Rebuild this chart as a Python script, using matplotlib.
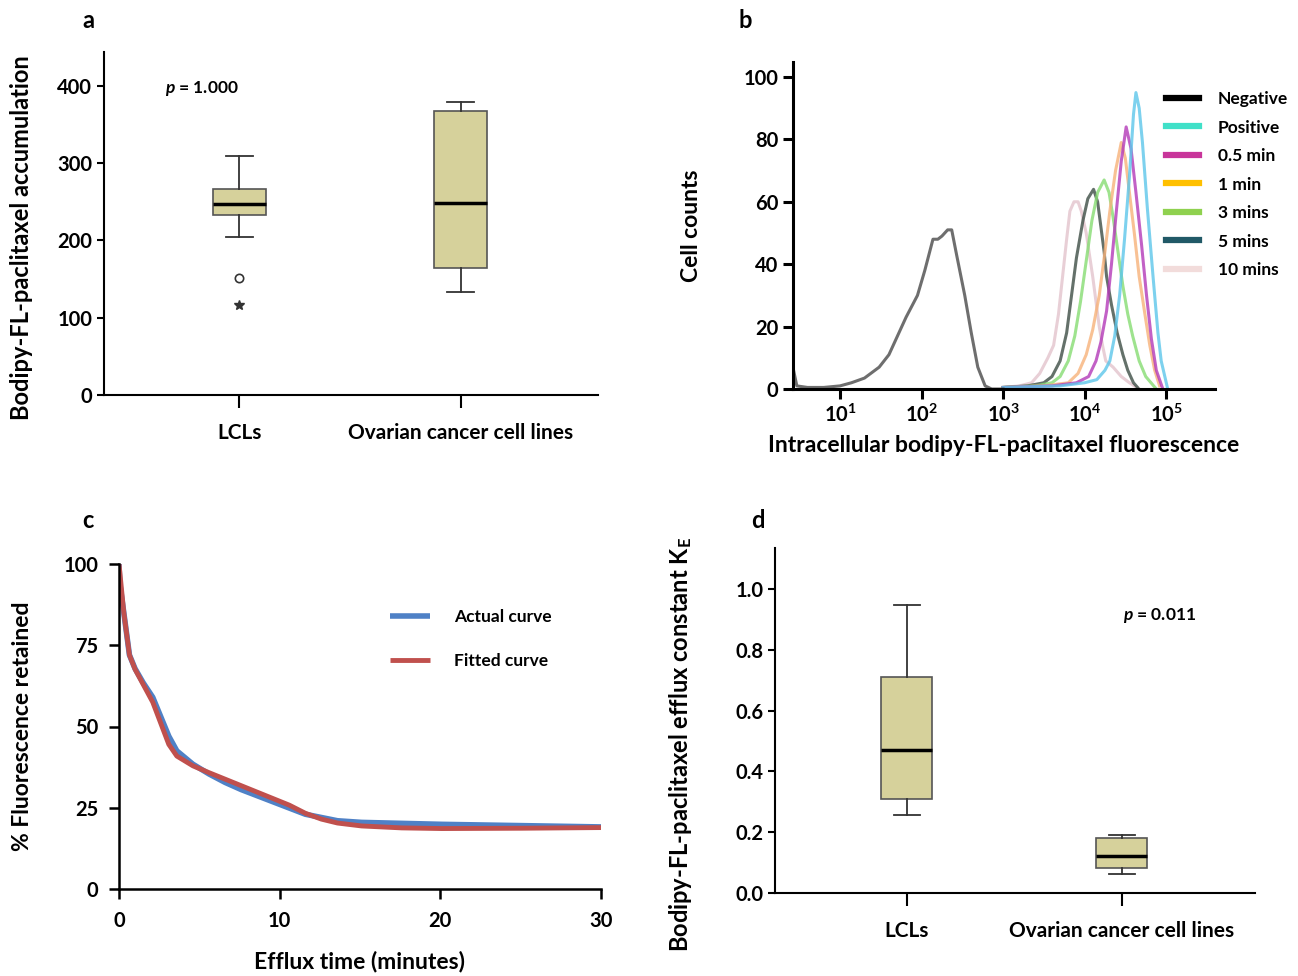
import numpy as np
import matplotlib
matplotlib.use("Agg")
import matplotlib.pyplot as plt
from matplotlib.lines import Line2D

plt.rcParams['font.family'] = ['Lato', 'DejaVu Sans']
plt.rcParams['font.weight'] = 'bold'
plt.rcParams['axes.labelweight'] = 'bold'
plt.rcParams['mathtext.fontset'] = 'custom'
plt.rcParams['mathtext.rm'] = 'Lato:bold'
plt.rcParams['mathtext.bf'] = 'Lato:bold'
plt.rcParams['mathtext.it'] = 'Lato:bold:italic'

# ---- panel a : accumulation box plot (whisker lo, q1, median, q3, whisker hi)
groups = ['LCLs', 'Ovarian cancer cell lines']
accum_stats = [[205, 233, 247, 267, 309], [133, 164, 249, 367, 379]]
accum_outlier_circle = 152
accum_outlier_star = 117

# ---- panel b : flow histograms (log10 fluorescence, cell counts)
hist_labels = ['Negative', 'Positive', '0.5 min', '1 min', '3 mins', '5 mins', '10 mins']
neg_logx = [0.43, 0.47, 0.6, 0.8, 1.0, 1.14, 1.3, 1.48, 1.6, 1.67, 1.81, 1.95, 2.04, 2.14, 2.2, 2.25,
            2.32, 2.37, 2.43, 2.53, 2.61, 2.69, 2.78, 2.86, 3.0]
neg_counts = [6, 1, 0.5, 0.5, 1, 2, 3.5, 7, 11, 15, 23, 30, 38, 48, 48, 49, 51, 51, 43, 30, 18, 7, 1, 0, 0]
pos_logx = [3.0, 3.7, 4.0, 4.15, 4.25, 4.31, 4.37, 4.43, 4.49, 4.55, 4.6, 4.63, 4.67, 4.71, 4.77, 4.84,
            4.9, 4.94, 5.02]
pos_counts = [0.5, 1, 2, 3, 6, 9, 17, 30, 48, 68, 88, 95, 90, 79, 58, 36, 18, 9, 0]
m05_logx = [3.0, 3.6, 3.9, 4.05, 4.14, 4.2, 4.27, 4.33, 4.39, 4.45, 4.51, 4.57, 4.63, 4.7, 4.76, 4.82,
            4.88, 4.96]
m05_counts = [0.5, 1, 2, 4, 9, 15, 25, 40, 57, 73, 84, 77, 63, 46, 30, 16, 6, 0]
m1_logx = [3.0, 3.5, 3.8, 3.92, 4.02, 4.1, 4.18, 4.25, 4.31, 4.38, 4.45, 4.5, 4.55, 4.61, 4.67, 4.74,
           4.8, 4.86, 4.92]
m1_counts = [0.5, 1, 2, 5, 11, 19, 30, 44, 57, 70, 79, 74, 63, 50, 36, 24, 14, 6, 1]
m3_logx = [3.0, 3.4, 3.6, 3.7, 3.8, 3.88, 3.95, 4.02, 4.09, 4.16, 4.24, 4.3, 4.35, 4.41, 4.47, 4.53,
           4.59, 4.67, 4.75, 4.88]
m3_counts = [0.5, 1, 2, 4, 9, 17, 28, 41, 54, 63, 67, 63, 55, 44, 33, 24, 17, 9, 4, 0]
m5_logx = [3.0, 3.3, 3.5, 3.6, 3.7, 3.78, 3.84, 3.9, 3.98, 4.04, 4.11, 4.16, 4.2, 4.24, 4.27, 4.33,
           4.4, 4.47, 4.53, 4.6, 4.65]
m5_counts = [0.5, 1, 2, 4, 9, 18, 30, 42, 54, 61, 64, 60, 52, 44, 36, 27, 18, 11, 6, 2, 0.5]
m10_logx = [3.0, 3.2, 3.35, 3.45, 3.55, 3.62, 3.68, 3.73, 3.78, 3.82, 3.87, 3.92, 3.96, 4.02, 4.06,
            4.1, 4.14, 4.18, 4.22, 4.26, 4.35, 4.45, 4.55, 4.67]
m10_counts = [0.5, 1, 2, 5, 10, 14, 24, 36, 48, 57, 60, 60, 57, 50, 43, 36, 28, 20, 14, 9, 7, 4, 2, 0]

# ---- panel c : efflux curves
time_actual = [0, 0.05, 0.3, 0.65, 1.0, 1.5, 2.1, 2.6, 3.1, 3.6, 4.6, 5.6, 6.6, 7.6, 8.6, 9.6, 10.6,
               11.6, 12.6, 13.6, 15.1, 17.6, 20.1, 25.1, 30]
actual = [100, 94, 85, 72, 67.8, 63.5, 59, 53, 47, 42.5, 38.4, 35.4, 32.8, 30.6, 28.7, 26.8, 24.9,
          23, 22, 21, 20.5, 20.2, 19.9, 19.5, 19.1]
time_fit = [0, 0.3, 0.65, 1.0, 1.5, 2.1, 2.6, 3.1, 3.6, 4.6, 5.6, 6.6, 7.6, 8.6, 9.6, 10.6, 11.6,
            12.6, 13.6, 15.1, 17.6, 20.1, 25.1, 30]
fitted = [100, 85, 72, 67.6, 63, 57.5, 51, 44.5, 40.9, 37.9, 35.8, 33.8, 31.8, 29.8, 27.8, 25.8, 23.3,
          21.5, 20.3, 19.4, 18.8, 18.6, 18.7, 18.9]

# ---- panel d : efflux constant box plot
ke_stats = [[0.256, 0.309, 0.470, 0.709, 0.947], [0.061, 0.082, 0.123, 0.181, 0.192]]

box_fill = '#d6d19b'
W, H = 1298, 976
fig = plt.figure(figsize=(W / 100, H / 100), dpi=100)


def px_axes(left, top, right, bottom):
    return fig.add_axes([left / W, 1 - bottom / H, (right - left) / W, (bottom - top) / H])


def style(ax, lw=1.5, tl=5):
    for s in ['top', 'right']:
        ax.spines[s].set_visible(False)
    for s in ['left', 'bottom']:
        ax.spines[s].set_linewidth(lw)
    ax.tick_params(width=lw, length=tl, labelsize=14.5, direction='out')


def box_panel(ax, stats):
    bxp = []
    for st, name in zip(stats, groups):
        bxp.append({'whislo': st[0], 'q1': st[1], 'med': st[2], 'q3': st[3], 'whishi': st[4],
                    'fliers': [], 'label': name})
    ax.bxp(bxp, positions=[1, 2], widths=0.24, patch_artist=True, showfliers=False,
           boxprops=dict(facecolor=box_fill, edgecolor='#555555', linewidth=1.2),
           medianprops=dict(color='black', linewidth=2.5),
           whiskerprops=dict(color='#333333', linewidth=1.3),
           capprops=dict(color='#333333', linewidth=1.3))
    ax.set_xlim(0.388, 2.62)
    ax.tick_params(axis='x', length=9, pad=11, labelsize=15)


# a
ax = px_axes(104, 52, 598, 395)
style(ax)
box_panel(ax, accum_stats)
ax.plot([1], [accum_outlier_circle], 'o', mfc='white', mec='#333333', ms=6, mew=1.2)
ax.plot([1], [accum_outlier_star], '*', color='#333333', ms=7)
ax.set_ylim(0, 444)
ax.set_yticks([0, 100, 200, 300, 400])
ax.set_ylabel('Bodipy-FL-paclitaxel accumulation', fontsize=17)
ax.yaxis.set_label_coords(-0.143, 0.46)
ax.text(0.123, 0.88, r'$\mathit{p}$ = 1.000', transform=ax.transAxes, fontsize=12.5)
fig.text(88 / W, 1 - 20 / H, 'a', fontsize=17, ha='center', va='center')

# b
ax = px_axes(793, 62, 1215, 389)
style(ax, lw=2.2, tl=7)
curves = [(neg_logx, neg_counts, '#4a4a4a'), (pos_logx, pos_counts, '#5cc6ea'),
          (m05_logx, m05_counts, '#b33ab8'), (m1_logx, m1_counts, '#f7b27a'),
          (m3_logx, m3_counts, '#86dc72'), (m5_logx, m5_counts, '#3d4d45'),
          (m10_logx, m10_counts, '#e3c3cc')]
order = [6, 5, 4, 3, 2, 1, 0]
for i in order:
    lx, cnt, col = curves[i]
    ax.plot(10 ** np.array(lx), cnt, color=col, lw=2.2, alpha=0.8)
ax.set_xscale('log')
ax.set_xlim(10 ** 0.423, 10 ** 5.6)
ax.set_ylim(0, 104.8)
ax.set_xticks([1e1, 1e2, 1e3, 1e4, 1e5])
ax.set_xticklabels([r'$\mathbf{10^{%d}}$' % k for k in range(1, 6)])
ax.tick_params(axis='x', pad=4)
ax.minorticks_off()
ax.set_yticks([0, 20, 40, 60, 80, 100])
ax.set_ylabel('Cell counts', fontsize=16.5, labelpad=30)
ax.set_xlabel('Intracellular bodipy-FL-paclitaxel fluorescence', fontsize=16.5, labelpad=6)
leg_cols = ['black', '#40e0c8', '#c8359a', '#ffc000', '#8fd14f', '#215967', '#f2dcdb']
handles = [Line2D([], [], color=c, lw=4.5) for c in leg_cols]
fig.legend(handles, hist_labels, loc='upper left', bbox_to_anchor=(1166 / W, 1 - 91 / H),
           frameon=False, fontsize=12.5, handlelength=1.9, handletextpad=1.1, labelspacing=0.72,
           borderpad=0, borderaxespad=0)
fig.text(745 / W, 1 - 20 / H, 'b', fontsize=17, ha='center', va='center')

# c
ax = px_axes(119, 564, 601, 889)
style(ax, lw=1.8, tl=7)
ax.plot(time_actual, actual, color='#4f81c6', lw=4, solid_capstyle='butt', label='Actual curve')
ax.plot(time_fit, fitted, color='#c0504d', lw=3.5, solid_capstyle='butt', label='Fitted curve')
ax.set_xlim(0, 30)
ax.set_ylim(0, 100)
ax.set_xticks([0, 10, 20, 30])
ax.set_yticks([0, 25, 50, 75, 100])
ax.tick_params(axis='x', pad=9)
ax.tick_params(axis='y', pad=8)
ax.set_ylabel('% Fluorescence retained', fontsize=16.5, labelpad=22)
ax.set_xlabel('Efflux time (minutes)', fontsize=16.5, labelpad=14)
ax.legend(loc='upper left', bbox_to_anchor=(390 / W, 1 - 609 / H), bbox_transform=fig.transFigure,
          frameon=False, fontsize=12.5, handlelength=2.3, handletextpad=1.4, labelspacing=1.6,
          borderpad=0, borderaxespad=0)
fig.text(88 / W, 1 - 520 / H, 'c', fontsize=17, ha='center', va='center')

# d
ax = px_axes(775, 548, 1255, 893)
style(ax)
box_panel(ax, ke_stats)
ax.set_ylim(0, 1.135)
ax.set_yticks([0, 0.2, 0.4, 0.6, 0.8, 1.0])
ax.set_yticklabels(['0.0', '0.2', '0.4', '0.6', '0.8', '1.0'])
ax.set_ylabel(r'Bodipy-FL-paclitaxel efflux constant K$_\mathbf{E}$', fontsize=17)
ax.yaxis.set_label_coords(-0.169, 0.43)
ax.text(0.725, 0.79, r'$\mathit{p}$ = 0.011', transform=ax.transAxes, fontsize=12.5)
fig.text(758 / W, 1 - 520 / H, 'd', fontsize=17, ha='center', va='center')

fig.savefig('out.png', dpi=100)
